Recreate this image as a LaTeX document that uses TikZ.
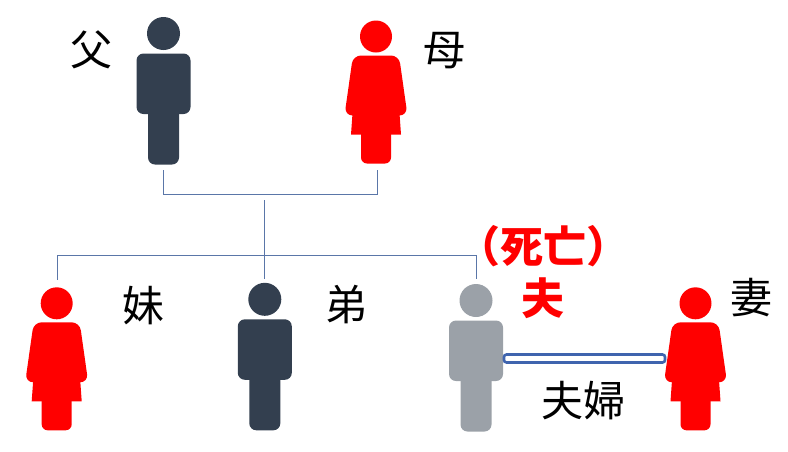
\documentclass[tikz,border=0pt]{standalone}
\usepackage{fontspec}
\setmainfont{Noto Sans CJK JP}
\definecolor{navyfig}{HTML}{333F4F}
\definecolor{grayfig}{HTML}{9BA1A8}
\definecolor{linkblue}{HTML}{5A76A8}
\definecolor{barblue}{HTML}{3F64AE}
\tikzset{
  manfig/.pic={
    \fill[rounded corners=7pt] (-27,20) rectangle (27,80.5);
    \fill[rounded corners=7pt] (-15.5,70) rectangle (15.5,131);
  },
  womanfig/.pic={
    \fill[rounded corners=8pt] (0,19) -- (23,19) -- (31.5,79) -- (-31.5,79) -- (-23,19) -- cycle;
    \fill (-23,70) -- (23,70) -- (25,98) -- (-25,98) -- cycle;
    \fill[rounded corners=6pt] (-15,85) rectangle (15,127);
  },
  head/.style={circle,inner sep=0pt,minimum size=#1},
  namelabel/.style={font=\fontsize{42}{42}\selectfont,inner sep=0pt},
  deadlabel/.style={font=\fontsize{43}{43}\selectfont\bfseries,text=red,inner sep=0pt},
  link/.style={draw=linkblue,line width=0.9pt},
}
\begin{document}
\begin{tikzpicture}[x=1pt,y=-1pt]
  \useasboundingbox (0,0) rectangle (788,451);

  % --- parents
  \node[head=33pt,fill=navyfig] (father) at (163.5,33.5) {};
  \pic[navyfig] at (father.center) {manfig};
  \node[head=32pt,fill=red] (mother) at (376,36.5) {};
  \pic[red] at (mother.center) {womanfig};

  % --- children
  \node[head=32pt,fill=red] (sister) at (56.7,303.3) {};
  \pic[red] at (sister.center) {womanfig};
  \node[head=33pt,fill=navyfig] (brother) at (264.8,299.3) {};
  \pic[navyfig] at (brother.center) {manfig};
  \node[head=33pt,fill=grayfig] (husband) at (476,300.5) {};
  \pic[grayfig] at (husband.center) {manfig};
  \node[head=32pt,fill=red] (wife) at (695.5,303.3) {};
  \pic[red] at (wife.center) {womanfig};

  % --- labels
  \node[namelabel] (lfather) at (91,50) {父};
  \node[namelabel] (lmother) at (444,51) {母};
  \node[namelabel] (lsister) at (143,306) {妹};
  \node[namelabel] (lbrother) at (346,305) {弟};
  \node[namelabel] (lwife) at (751,298) {妻};
  \node[namelabel] (lcouple) at (583,401) {夫婦};
  \node[deadlabel] (ldead) at (543,246) {（死亡）};
  \node[deadlabel] (lhusband) at (543,298) {夫};

  % --- parents' bracket
  \coordinate (fa) at (163.5,170);
  \coordinate (mo) at (377,170);
  \draw[link] (fa) |- (377,194.5) -- (mo);

  % --- children's bracket
  \coordinate (top) at (264.5,200);
  \coordinate (si) at (57.5,279.5);
  \coordinate (br) at (264.5,278.5);
  \coordinate (hu) at (476.5,278.5);
  \draw[link] (top) -- (br);
  \draw[link] (si) |- (264.5,255.5) -| (hu);

  % --- married bar
  \node[draw=barblue,fill=white,line width=2.6pt,rounded corners=2.5pt,
        minimum width=161pt,minimum height=8pt,inner sep=0pt] (bar) at (584.5,358.5) {};
\end{tikzpicture}
\end{document}
